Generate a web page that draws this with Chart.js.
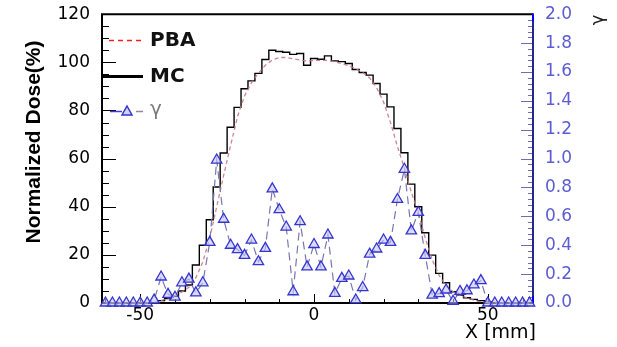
<!DOCTYPE html>
<html>
<head>
<meta charset="utf-8">
<script src="https://cdn.jsdelivr.net/npm/chart.js@4.4.0/dist/chart.umd.min.js"></script>
<style>
  html, body { margin: 0; padding: 0; background: #fff; }
</style>
</head>
<body>
<canvas id="chart1" width="617" height="347"></canvas>
<script>
// MC histogram: left bin edges (mm), 2 mm bins, last entry closes the last bin
const mcEdges = [-61, -59, -57, -55, -53, -51, -49, -47, -45, -43, -41, -39, -37, -35, -33, -31,
  -29, -27, -25, -23, -21, -19, -17, -15, -13, -11, -9, -7, -5, -3, -1, 1, 3, 5, 7, 9, 11, 13,
  15, 17, 19, 21, 23, 25, 27, 29, 31, 33, 35, 37, 39, 41, 43, 45, 47, 49, 51, 53, 55, 57, 59, 61, 63];
const mcDose = [0, 0, 0, 0, 0, 0, 0, 0, 1.0, 1.8, 2.8, 5.0, 7.5, 15.8, 24, 34.6,
  48.2, 62.3, 73, 81.3, 89, 92.3, 95.4, 101.2, 105, 104.5, 104.2, 103.3, 103.7, 98.8, 101.6, 101.3, 102.7, 100.6, 100.3, 99.5, 97, 95.8,
  94.7, 91.2, 86.8, 81.5, 72.5, 62.4, 49.4, 40, 29.2, 19.9, 12.3, 8.4, 4.7, 3.3, 2.2, 1.5, 1.0, 0.4, 0, 0, 0, 0, 0, 0, 0];

// PBA profile and gamma index at bin centres (mm)
const xCenters = [-60, -58, -56, -54, -52, -50, -48, -46, -44, -42, -40, -38, -36, -34, -32, -30,
  -28, -26, -24, -22, -20, -18, -16, -14, -12, -10, -8, -6, -4, -2, 0, 2, 4, 6, 8, 10, 12, 14,
  16, 18, 20, 22, 24, 26, 28, 30, 32, 34, 36, 38, 40, 42, 44, 46, 48, 50, 52, 54, 56, 58, 60, 62];
const pbaDose = [0, 0, 0, 0, 0, 0, 0, 0.3, 1.0, 2.0, 3.2, 4.6, 6.5, 10.5, 17, 27,
  40, 53, 65.5, 77.5, 86, 91.5, 95.5, 98.8, 101, 102, 102, 101.5, 101, 100.5, 100.8, 100.8, 100.8, 100.2, 99.5, 98.6, 97.4, 95.8,
  93.5, 89.5, 83.5, 75, 65, 56, 46, 37.5, 27, 18, 11.5, 7, 4.7, 3.2, 2.1, 1.2, 0.5, 0, 0, 0, 0, 0, 0, 0];
const gammaIdx = [0, 0, 0, 0, 0, 0, 0, 0.02, 0.18, 0.06, 0.04, 0.14, 0.165, 0.07, 0.14, 0.42,
  0.99, 0.58, 0.40, 0.37, 0.33, 0.436, 0.286, 0.378, 0.79, 0.646, 0.526, 0.078, 0.563, 0.25, 0.405, 0.25, 0.471, 0.067, 0.171, 0.187, 0.021, 0.107,
  0.338, 0.374, 0.436, 0.42, 0.717, 0.926, 0.5, 0.627, 0.33, 0.055, 0.065, 0.09, 0.012, 0.08, 0.085, 0.125, 0.155, 0, 0, 0, 0, 0, 0, 0];

// tick labels
const xTicks = [-50, 0, 50];
const doseTicks = [0, 20, 40, 60, 80, 100, 120];
const gammaTicks = [0, 0.2, 0.4, 0.6, 0.8, 1.0, 1.2, 1.4, 1.6, 1.8, 2.0];

const FONT = '"DejaVu Sans", sans-serif';

function pts(xs, ys) {
  return xs.map((v, i) => ({ x: v, y: ys[i] }));
}

// axis frame and tick marks (drawn under the data, like the original)
const frame = {
  id: 'frame',
  beforeDatasetsDraw(chart) {
    const ctx = chart.ctx;
    const a = chart.chartArea;
    const sx = chart.scales.x, sy = chart.scales.y, sg = chart.scales.y2;
    ctx.save();
    ctx.lineWidth = 1;
    ctx.strokeStyle = '#000';
    ctx.beginPath();
    for (let v = -60; v <= 60; v += 10) {
      const px = Math.round(sx.getPixelForValue(v)) + 0.5;
      const len = v % 50 === 0 ? 9 : 4;
      ctx.moveTo(px, a.bottom);
      ctx.lineTo(px, a.bottom - len);
    }
    for (let v = 0; v <= 120; v += 5) {
      const py = Math.round(sy.getPixelForValue(v)) + 0.5;
      const len = v % 20 === 0 ? 14 : 7;
      ctx.moveTo(a.left, py);
      ctx.lineTo(a.left + len, py);
    }
    ctx.stroke();

    ctx.strokeStyle = '#6d6dab';
    ctx.beginPath();
    for (let i = 0; i <= 50; i++) {
      const py = Math.round(sg.getPixelForValue(i * 0.04)) + 0.5;
      const len = i % 5 === 0 ? 12 : 5;
      ctx.moveTo(a.right, py);
      ctx.lineTo(a.right - len, py);
    }
    ctx.stroke();

    ctx.lineWidth = 2;
    ctx.strokeStyle = '#000';
    ctx.beginPath();
    ctx.moveTo(a.left, a.top);
    ctx.lineTo(a.right, a.top);
    ctx.moveTo(a.left, a.top - 1);
    ctx.lineTo(a.left, a.bottom + 1);
    ctx.moveTo(a.left, a.bottom);
    ctx.lineTo(a.right, a.bottom);
    ctx.stroke();

    ctx.strokeStyle = '#26268c';
    ctx.beginPath();
    ctx.moveTo(a.right, a.top - 1);
    ctx.lineTo(a.right, a.bottom + 1);
    ctx.stroke();
    ctx.strokeStyle = '#0000ff';
    ctx.beginPath();
    ctx.moveTo(a.right, a.top);
    ctx.lineTo(a.right, a.top + 7);
    ctx.moveTo(a.right, a.bottom);
    ctx.lineTo(a.right, a.bottom - 7);
    ctx.stroke();
    ctx.restore();
  },
  afterDraw(chart) {
    const ctx = chart.ctx;
    const a = chart.chartArea;
    ctx.save();

    // legend
    ctx.lineWidth = 1.5;
    ctx.strokeStyle = '#f02020';
    ctx.setLineDash([5, 4]);
    ctx.beginPath();
    ctx.moveTo(109, 40.5);
    ctx.lineTo(141, 40.5);
    ctx.stroke();
    ctx.setLineDash([]);

    ctx.lineWidth = 3;
    ctx.strokeStyle = '#000';
    ctx.beginPath();
    ctx.moveTo(a.left, 76.5);
    ctx.lineTo(143, 76.5);
    ctx.stroke();

    ctx.lineWidth = 1.5;
    ctx.strokeStyle = '#4040d0';
    ctx.beginPath();
    ctx.moveTo(110, 111.5);
    ctx.lineTo(122, 111.5);
    ctx.stroke();
    ctx.strokeStyle = '#8a8aa0';
    ctx.beginPath();
    ctx.moveTo(136, 111.5);
    ctx.lineTo(143, 111.5);
    ctx.stroke();
    ctx.fillStyle = 'rgba(190,190,245,0.7)';
    ctx.strokeStyle = '#3434d0';
    ctx.beginPath();
    ctx.moveTo(127, 106);
    ctx.lineTo(132, 115);
    ctx.lineTo(122, 115);
    ctx.closePath();
    ctx.fill();
    ctx.stroke();

    ctx.textBaseline = 'middle';
    ctx.textAlign = 'left';
    ctx.fillStyle = '#111';
    ctx.font = 'bold 20px ' + FONT;
    ctx.fillText('PBA', 150, 41);
    ctx.fillText('MC', 150, 77);
    ctx.fillStyle = '#7a7a7a';
    ctx.font = '20px ' + FONT;
    ctx.fillText('\u03b3', 150, 110);

    // axis titles
    ctx.fillStyle = '#000';
    ctx.save();
    ctx.translate(34, 142);
    ctx.rotate(-Math.PI / 2);
    ctx.textAlign = 'center';
    ctx.font = 'bold 21px "Liberation Sans", Arial, sans-serif';
    ctx.fillText('Normalized Dose(%)', 0, 0);
    ctx.restore();

    ctx.textAlign = 'right';
    ctx.textBaseline = 'alphabetic';
    ctx.font = '19px ' + FONT;
    ctx.fillText('X [mm]', 536, 338);

    ctx.save();
    ctx.translate(598, 20);
    ctx.rotate(-Math.PI / 2);
    ctx.textAlign = 'center';
    ctx.textBaseline = 'middle';
    ctx.fillStyle = '#222';
    ctx.font = '18px ' + FONT;
    ctx.fillText('\u03b3', 0, 0);
    ctx.restore();

    ctx.restore();
  }
};

const ctx = document.getElementById('chart1').getContext('2d');

new Chart(ctx, {
  type: 'line',
  data: {
    datasets: [
      {
        label: 'MC',
        data: pts(mcEdges, mcDose),
        stepped: true,
        borderColor: '#000',
        borderWidth: 1.4,
        pointRadius: 0,
        fill: false,
        yAxisID: 'y',
        order: 3,
      },
      {
        label: 'PBA',
        data: pts(xCenters, pbaDose),
        borderColor: 'rgba(200,120,130,0.9)',
        segment: {
          // flat zero tails come out bright red, the sloped parts look pale
          borderColor: (c) => (c.p0.parsed.y === 0 && c.p1.parsed.y === 0) ? '#ff1a1a' : 'rgba(200,120,130,0.9)',
        },
        borderWidth: 1.3,
        borderDash: [4, 3],
        pointRadius: 0,
        fill: false,
        yAxisID: 'y',
        order: 2,
      },
      {
        label: '\u03b3',
        data: pts(xCenters, gammaIdx),
        borderColor: '#7676b0',
        borderWidth: 1.2,
        borderDash: [8, 5],
        pointStyle: 'triangle',
        pointRadius: 6,
        pointBorderColor: '#3434d0',
        pointBackgroundColor: 'rgba(195,195,245,0.6)',
        pointBorderWidth: 1.3,
        fill: false,
        clip: false,
        yAxisID: 'y2',
        order: 1,
      },
    ],
  },
  options: {
    responsive: false,
    maintainAspectRatio: false,
    animation: false,
    layout: { padding: { top: 14, left: 0, right: 0, bottom: 0 } },
    plugins: {
      legend: { display: false },
      tooltip: { enabled: false },
    },
    scales: {
      x: {
        type: 'linear',
        min: -61,
        max: 63,
        grid: { display: false },
        border: { display: false },
        afterBuildTicks: (s) => { s.ticks = xTicks.map(v => ({ value: v })); },
        afterFit: (s) => { s.height = 44; },
        ticks: {
          color: '#000',
          padding: -6,
          maxRotation: 0,
          font: { family: FONT, size: 17 },
          callback: (v) => String(v),
        },
      },
      y: {
        type: 'linear',
        position: 'left',
        min: 0,
        max: 120,
        grid: { display: false },
        border: { display: false },
        afterBuildTicks: (s) => { s.ticks = doseTicks.map(v => ({ value: v })); },
        afterFit: (s) => { s.width = 102; },
        ticks: {
          color: '#000',
          padding: 4,
          font: { family: FONT, size: 17 },
        },
      },
      y2: {
        type: 'linear',
        position: 'right',
        min: 0,
        max: 2,
        grid: { display: false },
        border: { display: false },
        afterBuildTicks: (s) => { s.ticks = gammaTicks.map(v => ({ value: v })); },
        afterFit: (s) => { s.width = 84; },
        ticks: {
          color: '#5c5cd4',
          padding: 4,
          font: { family: FONT, size: 17 },
          callback: (v) => Number(v).toFixed(1),
        },
      },
    },
  },
  plugins: [frame],
});
</script>
</body>
</html>
